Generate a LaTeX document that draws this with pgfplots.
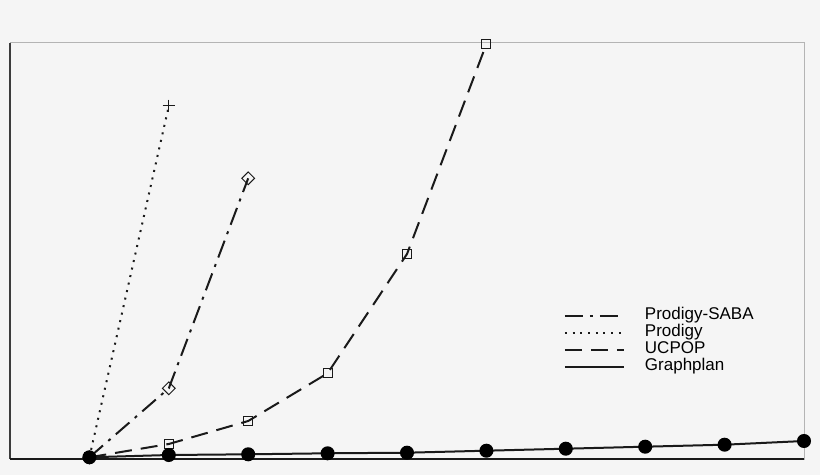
\documentclass[border=0pt]{standalone}
\usepackage{pgfplots}
\pgfplotsset{compat=1.18}
\usepackage{fontspec}
\setmainfont{Liberation Sans}
\usetikzlibrary{backgrounds,calc}
\definecolor{bg}{HTML}{F5F5F5}
\definecolor{ink}{HTML}{1A1A1A}
\definecolor{frame}{HTML}{B4B4B4}

\begin{document}
\begin{tikzpicture}
\begin{axis}[name=ax, at={(0pt,0pt)}, anchor=south west,
  scale only axis, width=794pt, height=416.6pt,
  xmin=0, xmax=10, ymin=0, ymax=416.6,
  xtick=\empty, ytick=\empty,
  axis line style={frame, line width=1pt},
  clip=false,
  font=\fontsize{17}{17}\selectfont,
  legend style={draw=none, fill=none, inner sep=0pt, outer sep=0pt,
    at={(rel axis cs:0.6977,0.283)}, anchor=west,
    nodes={inner ysep=0pt, inner xsep=0pt, text height=12pt, text depth=5.2pt}},
  legend cell align=left,
  legend image code/.code={\draw[#1, mark=none, line width=2pt] (0pt,0pt) -- (59pt,0pt);
    \path (79pt,0pt);},
]
\addplot[ink, line width=2pt, dash pattern=on 18pt off 7pt on 3pt off 7pt,
  mark=square, mark size=4.5pt, mark options={solid, rotate=45, line width=1pt}]
  coordinates {(1,2) (2,71) (3,281)};
\addlegendentry{Prodigy-SABA}
\addplot[ink, line width=2pt, dash pattern=on 2pt off 5.7pt,
  mark=+, mark size=6.3pt, mark options={solid, line width=1pt}]
  coordinates {(1,2) (2,353.3)};
\addlegendentry{Prodigy}
\addplot[ink, line width=2pt, dash pattern=on 17pt off 9pt,
  mark=square, mark size=4.5pt, mark options={solid, line width=1pt}]
  coordinates {(1,2) (2,15.3) (3,38.3) (4,86) (5,205.3) (6,415.3)};
\addlegendentry{UCPOP}
\addplot[ink, line width=2pt, solid,
  mark=*, mark size=6pt, mark options={solid, fill=black, draw=black}]
  coordinates {(1,2) (2,4.3) (3,5) (4,6) (5,6.6) (6,8.6) (7,10.6) (8,12.6) (9,14.6) (10,18.3)};
\addlegendentry{Graphplan}
\draw[ink!85, line width=1.2pt] (rel axis cs:0,1) -- (rel axis cs:0,0);
\draw[ink, line width=2pt] (rel axis cs:0,0) -- (rel axis cs:1,0);
\end{axis}
\begin{scope}[on background layer]
\fill[bg] ($(ax.south west)+(-10pt,-15.7pt)$) rectangle ($(ax.north east)+(16pt,42.7pt)$);
\end{scope}
\end{tikzpicture}
\end{document}
